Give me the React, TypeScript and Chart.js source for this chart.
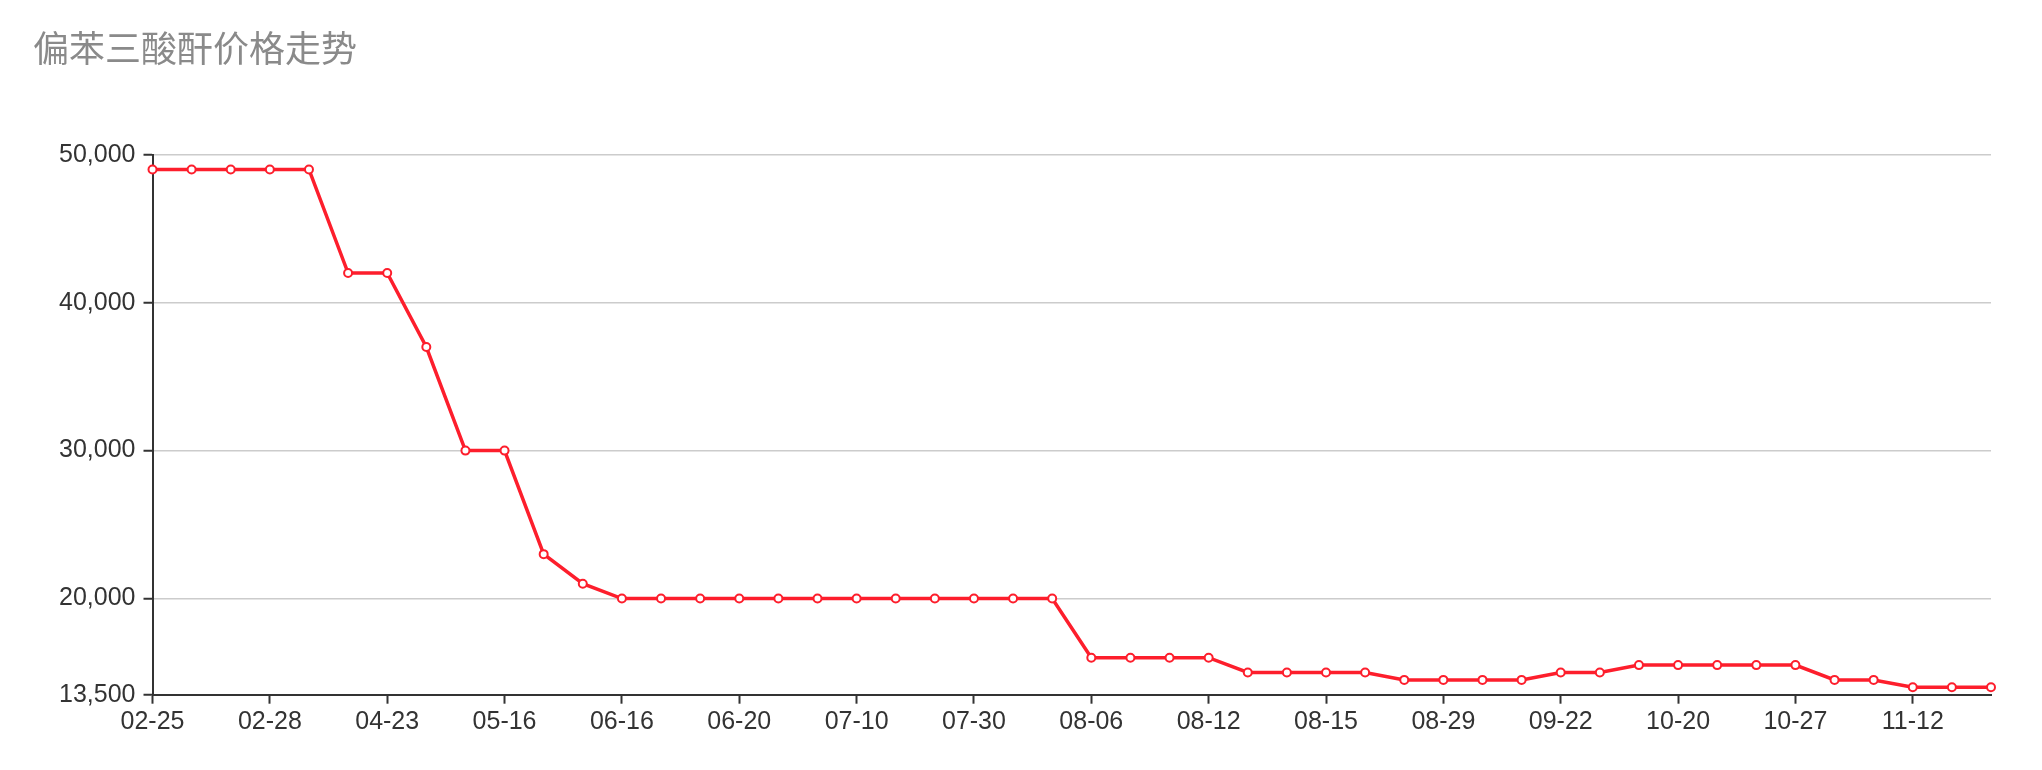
import React, { useEffect, useRef } from "react";
import { Chart, registerables } from "chart.js";

Chart.register(...registerables);

const chartTitle = "偏苯三酸酐价格走势";

// x-axis labels shown on every third point
const tickLabels = [
  "02-25", "02-28", "04-23", "05-16", "06-16", "06-20", "07-10", "07-30",
  "08-06", "08-12", "08-15", "08-29", "09-22", "10-20", "10-27", "11-12",
];

// price series (48 observations)
const prices = [
  49000, 49000, 49000, 49000, 49000,
  42000, 42000,
  37000,
  30000, 30000,
  23000, 21000,
  20000, 20000, 20000, 20000, 20000, 20000, 20000, 20000, 20000, 20000, 20000, 20000,
  16000, 16000, 16000, 16000,
  15000, 15000, 15000, 15000,
  14500, 14500, 14500, 14500,
  15000, 15000,
  15500, 15500, 15500, 15500, 15500,
  14500, 14500,
  14000, 14000, 14000,
];

const yTicks = [13500, 20000, 30000, 40000, 50000];
const labelStep = 3;

const categories = prices.map((_, i) =>
  i % labelStep === 0 && tickLabels[i / labelStep] ? tickLabels[i / labelStep] : ""
);

const RED = "#fd1e2c";
const AXIS = "#333333";

const titlePlugin = {
  id: "leftTitle",
  afterDraw(chart: any) {
    const ctx = chart.ctx;
    ctx.save();
    ctx.font = '36px "Noto Sans CJK SC", "Noto Sans", sans-serif';
    ctx.fillStyle = "#8a8a8a";
    ctx.textAlign = "left";
    ctx.textBaseline = "middle";
    ctx.fillText(chartTitle, 25, 40);
    ctx.restore();
  },
};

export default function App() {
  const ref = useRef<HTMLCanvasElement | null>(null);

  useEffect(() => {
    if (!ref.current) return;
    const chart = new Chart(ref.current, {
      type: "line",
      data: {
        labels: categories,
        datasets: [
          {
            data: prices,
            borderColor: RED,
            borderWidth: 3.5,
            backgroundColor: "#ffffff",
            pointBackgroundColor: "#ffffff",
            pointBorderColor: RED,
            pointBorderWidth: 2,
            pointRadius: 4,
            tension: 0,
            clip: false as any,
          },
        ],
      },
      options: {
        animation: false,
        responsive: true,
        maintainAspectRatio: false,
        layout: { padding: { left: 0, right: 43, top: 146.7, bottom: 0 } },
        plugins: {
          legend: { display: false },
          title: { display: false },
          tooltip: { enabled: false },
        },
        scales: {
          x: {
            type: "category",
            offset: false,
            grid: {
              display: true,
              drawOnChartArea: false,
              drawTicks: true,
              tickLength: 9,
              tickWidth: 2,
              tickColor: (c: any) => (c.index % labelStep === 0 && categories[c.index] ? AXIS : "rgba(0,0,0,0)"),
            },
            border: { display: true, color: AXIS, width: 2 },
            ticks: {
              autoSkip: false,
              maxRotation: 0,
              minRotation: 0,
              padding: 3,
              color: AXIS,
              font: { family: '"Liberation Sans", Arial, sans-serif', size: 25 },
              callback: (_v: any, i: number) => categories[i],
            },
            afterFit: (s: any) => {
              s.height = 754 - 686.7;
            },
          },
          y: {
            min: 13500,
            max: 50000,
            afterBuildTicks: (s: any) => {
              s.ticks = yTicks.map((v) => ({ value: v }));
            },
            grid: {
              color: "#cccccc",
              lineWidth: 1.5,
              drawTicks: true,
              tickLength: 9,
              tickWidth: 2,
              tickColor: AXIS,
            },
            border: { display: true, color: AXIS, width: 2 },
            ticks: {
              padding: 8,
              color: AXIS,
              font: { family: '"Liberation Sans", Arial, sans-serif', size: 25 },
              callback: (v: any) => Number(v).toLocaleString("en-US"),
            },
            afterFit: (s: any) => {
              s.width = 144.5;
            },
          },
        },
      },
      plugins: [titlePlugin],
    });
    return () => chart.destroy();
  }, []);

  return (
    <div style={{ position: "relative", width: "100%", height: 754 }}>
      <canvas ref={ref} />
    </div>
  );
}
